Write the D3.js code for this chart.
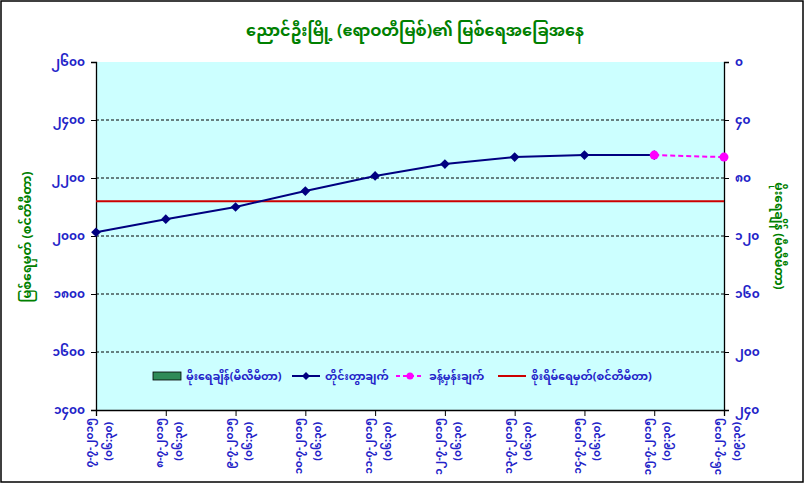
<!DOCTYPE html>
<html><head><meta charset="utf-8">
<script src="https://cdn.jsdelivr.net/npm/d3@7"></script>
<style>
body{margin:0;background:#fff;}
text{font-family:"Noto Sans Myanmar","Padauk","Myanmar Text","Noto Sans",sans-serif;}
</style></head>
<body><svg id="c" width="805" height="484"></svg>
<script>
const title = "ညောင်ဦးမြို့ (ဧရာဝတီမြစ်)၏ မြစ်ရေအခြေအနေ";
const leftTitle = "မြစ်ရေမှတ် (စင်တီမီတာ)";
const rightTitle = "မိုးရေချိန် (မီလီမီတာ)";
const dates = ["၇-၇-၂၀၁၅","၈-၇-၂၀၁၅","၉-၇-၂၀၁၅","၁၀-၇-၂၀၁၅","၁၁-၇-၂၀၁၅","၁၂-၇-၂၀၁၅","၁၃-၇-၂၀၁၅","၁၄-၇-၂၀၁၅","၁၅-၇-၂၀၁၅","၁၆-၇-၂၀၁၅"];
const times = ["(၀၆:၃၀)","(၀၆:၃၀)","(၀၆:၃၀)","(၀၆:၃၀)","(၀၆:၃၀)","(၀၆:၃၀)","(၀၆:၃၀)","(၀၆:၃၀)","(၀၉:၃၀)","(၀၉:၃၀)"];
const rainfall = [null,null,null,null,null,null,null,null,null,null];
const observed = [2013,2058,2100,2155,2207,2248,2272,2279,2279,null];
const forecast = [null,null,null,null,null,null,null,null,2279,2272];
const dangerLevel = 2120;
const leftTicks = [1400,1600,1800,2000,2200,2400,2600];
const rightTicks = [0,40,80,120,160,200,240];
const legendLabels = ["မိုးရေချိန်(မီလီမီတာ)","တိုင်းတွာချက်","ခန့်မှန်းချက်","စိုးရိမ်ရေမှတ်(စင်တီမီတာ)"];

const myDigits = "၀၁၂၃၄၅၆၇၈၉";
const toMy = n => String(n).replace(/[0-9]/g, d => myDigits[+d]);

const svg = d3.select("#c");
const L = 96, R = 724, T = 62, B = 410;
const blue = "#2323c8", green = "#008000";

svg.append("rect").attr("x",1).attr("y",1).attr("width",802).attr("height",481)
  .attr("fill","#fff").attr("stroke","#000").attr("stroke-width",1.5);

const x = d3.scalePoint().domain(d3.range(dates.length)).range([L,R]);
const yL = d3.scaleLinear().domain([1400,2600]).range([B,T]);
const yR = d3.scaleLinear().domain([0,240]).range([T,B]);

svg.append("rect").attr("x",L).attr("y",T).attr("width",R-L).attr("height",B-T).attr("fill","#ccffff");

// gridlines
svg.append("g").selectAll("line").data(leftTicks.filter(v=>v>1400 && v<2600)).join("line")
  .attr("x1",L).attr("x2",R).attr("y1",d=>yL(d)).attr("y2",d=>yL(d))
  .attr("stroke","#000").attr("stroke-width",1).attr("stroke-dasharray","3,2");

// rainfall bars (none)
const bw = 28;
svg.append("g").selectAll("rect").data(rainfall.map((v,i)=>({v,i})).filter(d=>d.v!=null)).join("rect")
  .attr("x",d=>x(d.i)-bw/2).attr("y",yR(0)).attr("width",bw).attr("height",d=>yR(d.v)-yR(0))
  .attr("fill","#2e8b57").attr("stroke","#000");

// axes
const gl = svg.append("g").attr("transform",`translate(${L},0)`)
  .call(d3.axisLeft(yL).tickValues(leftTicks).tickFormat(toMy).tickSize(5).tickPadding(6));
const gr = svg.append("g").attr("transform",`translate(${R},0)`)
  .call(d3.axisRight(yR).tickValues(rightTicks).tickFormat(toMy).tickSize(5).tickPadding(6));
const gb = svg.append("g").attr("transform",`translate(0,${B})`)
  .call(d3.axisBottom(x).tickSize(6).tickFormat(""));
[gl,gr,gb].forEach(g=>{
  g.select(".domain").attr("stroke","#000").attr("stroke-width",1.3);
  g.selectAll(".tick line").attr("stroke","#000");
  g.selectAll(".tick text").attr("fill",blue).attr("font-size",12).attr("font-weight","bold");
});

// x labels rotated
const xl = svg.append("g").selectAll("g").data(dates.map((d,i)=>({d,t:times[i],i}))).join("g")
  .attr("transform",d=>`translate(${x(d.i)},418) rotate(-90)`);
xl.append("text").attr("x",0).attr("y",-3).attr("text-anchor","end")
  .attr("fill",blue).attr("font-size",10.5).attr("font-weight","bold").text(d=>d.d);
xl.append("text").attr("x",-4).attr("y",16).attr("text-anchor","end")
  .attr("fill",blue).attr("font-size",10.5).attr("font-weight","bold").text(d=>d.t);

// danger line
svg.append("line").attr("x1",L).attr("x2",R).attr("y1",yL(dangerLevel)).attr("y2",yL(dangerLevel))
  .attr("stroke","#cc0000").attr("stroke-width",2);

// observed
const obs = observed.map((v,i)=>({v,i})).filter(d=>d.v!=null);
const line = d3.line().x(d=>x(d.i)).y(d=>yL(d.v));
svg.append("path").datum(obs).attr("d",line).attr("fill","none").attr("stroke","#000080").attr("stroke-width",2);
svg.append("g").selectAll("path").data(obs).join("path")
  .attr("d",d3.symbol(d3.symbolDiamond2,60)).attr("transform",d=>`translate(${x(d.i)},${yL(d.v)})`)
  .attr("fill","#000080");

// forecast
const fc = forecast.map((v,i)=>({v,i})).filter(d=>d.v!=null);
svg.append("path").datum(fc).attr("d",line).attr("fill","none").attr("stroke","#ff00ff").attr("stroke-width",2).attr("stroke-dasharray","5,3");
svg.append("g").selectAll("circle").data(fc).join("circle")
  .attr("cx",d=>x(d.i)).attr("cy",d=>yL(d.v)).attr("r",4.5).attr("fill","#ff00ff");

// legend
const ly = 376;
const lg = svg.append("g");
const lx = [153,292,396,498];
lg.append("rect").attr("x",lx[0]).attr("y",ly-4).attr("width",28).attr("height",8).attr("fill","#2e8b57").attr("stroke","#000").attr("stroke-width",0.8);
lg.append("line").attr("x1",lx[1]).attr("x2",lx[1]+28).attr("y1",ly).attr("y2",ly).attr("stroke","#000080").attr("stroke-width",2);
lg.append("path").attr("d",d3.symbol(d3.symbolDiamond2,40)).attr("transform",`translate(${lx[1]+14},${ly})`).attr("fill","#000080");
lg.append("line").attr("x1",lx[2]).attr("x2",lx[2]+28).attr("y1",ly).attr("y2",ly).attr("stroke","#ff00ff").attr("stroke-width",2).attr("stroke-dasharray","4,3");
lg.append("circle").attr("cx",lx[2]+14).attr("cy",ly).attr("r",3.5).attr("fill","#ff00ff");
lg.append("line").attr("x1",lx[3]).attr("x2",lx[3]+28).attr("y1",ly).attr("y2",ly).attr("stroke","#cc0000").attr("stroke-width",2);
lg.selectAll("text.lt").data(legendLabels).join("text").attr("class","lt")
  .attr("x",(d,i)=>lx[i]+33).attr("y",ly+4).attr("fill",blue).attr("font-size",11).attr("font-weight","bold").text(d=>d);

// titles
svg.append("text").attr("x",415).attr("y",36).attr("text-anchor","middle").attr("fill",green)
  .attr("font-size",16).attr("font-weight","bold").text(title);
svg.append("text").attr("transform","translate(31,237) rotate(-90)").attr("text-anchor","middle").attr("fill",green)
  .attr("font-size",12.5).attr("font-weight","bold").text(leftTitle);
svg.append("text").attr("transform","translate(775,236) rotate(90)").attr("text-anchor","middle").attr("fill",green)
  .attr("font-size",12).attr("font-weight","bold").text(rightTitle);
</script></body></html>
